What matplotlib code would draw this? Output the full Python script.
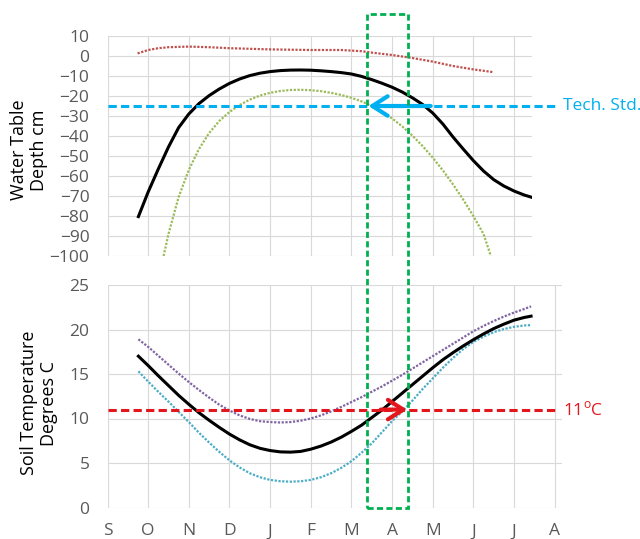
import matplotlib
matplotlib.use('Agg')
import matplotlib.pyplot as plt
from matplotlib.patches import Rectangle
from matplotlib.transforms import blended_transform_factory

plt.rcParams['font.family'] = ['Open Sans', 'DejaVu Sans']

# month axis, 0 = September
months = ['S', 'O', 'N', 'D', 'J', 'F', 'M', 'A', 'M', 'J', 'J', 'A']

# water table depth (cm)
wt_x = [0.76, 1.0, 1.25, 1.5, 1.75, 2.0, 2.25, 2.5, 2.75, 3.0, 3.25, 3.5, 3.75, 4.0, 4.25, 4.5,
        4.75, 5.0, 5.25, 5.5, 5.75, 6.0, 6.25, 6.5, 6.75, 7.0, 7.25, 7.5, 7.75, 8.0, 8.25, 8.5,
        8.75, 9.0, 9.25, 9.5, 9.75, 10.0, 10.25, 10.46]
wt_mean = [-80.3, -68, -56.5, -45.5, -35.8, -29.0, -23.8, -19.8, -16.5, -13.7, -11.5, -9.8, -8.6,
           -7.8, -7.3, -7.05, -7.0, -7.1, -7.4, -7.8, -8.3, -9.0, -10.2, -11.8, -13.6, -15.6,
           -18.0, -20.9, -24.2, -28.5, -34, -40.5, -46.5, -52.3, -57.5, -61.8, -65.0, -67.5,
           -69.5, -70.8]
wt_dry_x = [1.38, 1.5, 1.75, 2.0, 2.25, 2.5, 2.75, 3.0, 3.25, 3.5, 3.75, 4.0, 4.25, 4.5, 4.75,
            5.0, 5.25, 5.5, 5.75, 6.0, 6.25, 6.5, 6.75, 7.0, 7.25, 7.5, 7.75, 8.0, 8.25, 8.5,
            8.75, 9.0, 9.25, 9.43]
wt_dry = [-100, -89, -70.5, -57, -46.5, -38.5, -32.5, -28, -24.5, -21.8, -19.8, -18.4, -17.5,
          -17.0, -16.9, -17.1, -17.6, -18.4, -19.5, -20.9, -22.7, -25.0, -27.8, -31.2, -35.2,
          -39.8, -45.0, -50.8, -57.2, -64.2, -71.8, -80.0, -89.0, -100]
wt_wet_x = [0.74, 1.0, 1.25, 1.5, 2.0, 2.5, 3.0, 4.0, 5.0, 5.75, 6.25, 6.5, 7.0, 7.5, 8.0, 8.5,
            9.0, 9.47]
wt_wet = [1.3, 3.0, 3.9, 4.4, 4.7, 4.4, 3.9, 3.3, 3.0, 3.0, 2.4, 1.7, 0.5, -1.0, -2.8, -5.0,
          -6.7, -8.0]

# soil temperature (deg C)
st_x = [0.76, 1.0, 1.25, 1.5, 1.75, 2.0, 2.25, 2.5, 2.75, 3.0, 3.25, 3.5, 3.75, 4.0, 4.25, 4.5,
        4.75, 5.0, 5.25, 5.5, 5.75, 6.0, 6.25, 6.5, 6.75, 7.0, 7.25, 7.5, 7.75, 8.0, 8.25, 8.5,
        8.75, 9.0, 9.25, 9.5, 9.75, 10.0, 10.25, 10.42]
st_mean = [17.0, 15.95, 14.8, 13.7, 12.6, 11.6, 10.65, 9.8, 9.0, 8.25, 7.6, 7.05, 6.65, 6.4,
           6.25, 6.22, 6.3, 6.55, 6.9, 7.35, 7.9, 8.55, 9.25, 10.1, 10.95, 11.9, 12.85, 13.8,
           14.75, 15.7, 16.6, 17.4, 18.15, 18.85, 19.5, 20.1, 20.6, 21.05, 21.35, 21.5]
st_hi = [18.9, 18.05, 17.05, 16.05, 15.05, 14.1, 13.2, 12.35, 11.55, 10.9, 10.35, 9.95, 9.7, 9.6,
         9.55, 9.6, 9.75, 10.0, 10.35, 10.8, 11.3, 11.85, 12.4, 13.0, 13.6, 14.25, 14.9, 15.6,
         16.3, 17.0, 17.7, 18.4, 19.1, 19.8, 20.4, 20.95, 21.45, 21.9, 22.3, 22.6]
st_lo = [15.3, 14.15, 13.0, 11.9, 10.75, 9.6, 8.4, 7.3, 6.25, 5.3, 4.5, 3.85, 3.4, 3.1, 2.95,
         2.9, 2.95, 3.1, 3.4, 3.85, 4.45, 5.2, 6.15, 7.2, 8.45, 9.7, 10.8, 12.0, 13.3, 14.5,
         15.7, 16.8, 17.8, 18.6, 19.2, 19.7, 20.05, 20.3, 20.45, 20.5]

tech_std = -25
temp_limit = 11
window = (6.39, 7.39)  # highlighted weeks

W, H = 640, 539
fig = plt.figure(figsize=(W / 100, H / 100), dpi=100)
px = 40.65  # pixels per month
left = 107.5
ax1 = fig.add_axes([left / W, (H - 256) / H, 424.5 / W, 220 / H])
ax2 = fig.add_axes([left / W, (H - 507.5) / H, 454.5 / W, 222.5 / H])
ax1.set_xlim(0, 424.5 / px)
ax2.set_xlim(0, 454.5 / px)
ax1.set_ylim(-100, 10)
ax2.set_ylim(0, 25)

grid_c = '#d9d9d9'
tick_c = '#595959'
for ax in (ax1, ax2):
    for s in ax.spines.values():
        s.set_visible(False)
    ax.grid(True, color=grid_c, lw=0.8)
    ax.set_axisbelow(True)
    ax.tick_params(length=0, labelsize=12.5, labelcolor=tick_c, pad=13)

ax1.set_yticks(range(-100, 11, 10))
ax1.set_xticks(range(0, 11))
ax1.set_xticklabels([])
ax2.set_yticks(range(0, 26, 5))
ax2.set_xticks(range(len(months)))
ax2.set_xticklabels(months)
ax2.tick_params(axis='x', pad=11.5)

dot = (0, (1, 0.7))
ax1.plot(wt_wet_x, wt_wet, color='#C0504D', lw=1.6, ls=dot)
ax1.plot(wt_dry_x, wt_dry, color='#9BBB59', lw=1.6, ls=dot)
ax1.plot(wt_x, wt_mean, color='black', lw=2.2)

ax2.plot(st_x, st_hi, color='#8064A2', lw=1.6, ls=dot)
ax2.plot(st_x, st_lo, color='#4BACC6', lw=1.6, ls=dot)
ax2.plot(st_x, st_mean, color='black', lw=2.2)

# thresholds
blue = '#00B0F0'
red = '#E3161E'
head = '->, head_length=0.55, head_width=0.35'
ax1.plot([0, 11.0], [tech_std, tech_std], color=blue, lw=2.2, dashes=(2.7, 1.4), clip_on=False)
ax1.text(11.2, tech_std, 'Tech. Std.', color=blue, fontsize=12.5, va='center', ha='left')
ax1.annotate('', xy=(6.42, tech_std), xytext=(7.95, tech_std),
             arrowprops=dict(arrowstyle=head, color=blue, lw=3, mutation_scale=20,
                             shrinkA=0, shrinkB=0))

ax2.plot([0, 11.0], [temp_limit, temp_limit], color=red, lw=2.2, dashes=(2.7, 1.4), clip_on=False)
ax2.text(11.2, temp_limit, '11$^\\mathregular{o}$C', color=red, fontsize=12.5, va='center', ha='left')
ax2.annotate('', xy=(7.37, temp_limit), xytext=(6.72, temp_limit),
             arrowprops=dict(arrowstyle=head, color=red, lw=3, mutation_scale=20,
                             shrinkA=0, shrinkB=0))

# green box spanning both panels
trans = blended_transform_factory(ax2.transData, ax2.transAxes)
box = Rectangle((window[0], 0), window[1] - window[0], (507.5 - 14) / 222.5, transform=trans,
                fill=False, edgecolor='#00B050', lw=2, ls=(0, (2.2, 1.2)), clip_on=False, zorder=5)
ax2.add_patch(box)

fig.text(29 / W, 1 - 150 / H, 'Water Table\nDepth cm', rotation=90, ha='center', va='center',
         fontsize=13, multialignment='center')
fig.text(39 / W, 1 - 403 / H, 'Soil Temperature\nDegrees C', rotation=90, ha='center', va='center',
         fontsize=13, multialignment='center')

fig.savefig('out.png', dpi=100)
